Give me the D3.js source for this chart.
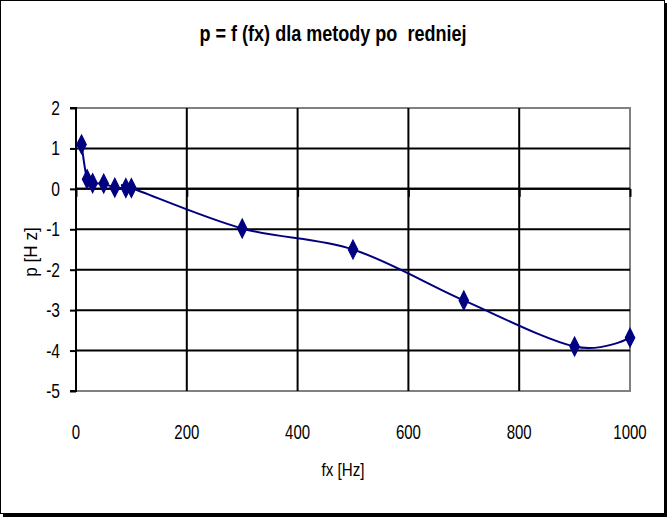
<!DOCTYPE html>
<html><head><meta charset="utf-8">
<script src="https://cdn.jsdelivr.net/npm/d3@7"></script>
<style>
html,body{margin:0;padding:0;background:#fff;}
text{font-family:"Liberation Sans",Arial,sans-serif;fill:#000;white-space:pre;}
</style></head>
<body>
<svg id="chart" width="667" height="517"></svg>
<script>
const fxValues = [10, 20, 30, 50, 70, 90, 100, 300, 500, 700, 900, 1000];
const pValues  = [1.1, 0.24, 0.14, 0.13, 0.03, 0.02, 0.02, -0.98, -1.5, -2.76, -3.9, -3.68];
const xTicks = [0, 200, 400, 600, 800, 1000];
const yTicks = [2, 1, 0, -1, -2, -3, -4, -5];
const titleText = "p = f (fx) dla metody po  redniej";
const xTitle = "fx [Hz]";
const yTitle = "p [H z]";

const svg = d3.select("#chart");
const L = 76, R = 630, T = 108, B = 391;

// frame with shadow
svg.append("rect").attr("x",0.5).attr("y",0.5).attr("width",664).attr("height",513)
  .attr("fill","#fff").attr("stroke","#000").attr("stroke-width",1);
svg.append("line").attr("x1",666).attr("x2",666).attr("y1",3).attr("y2",517).attr("stroke","#000").attr("stroke-width",2);
svg.append("line").attr("x1",3).attr("x2",667).attr("y1",515.5).attr("y2",515.5).attr("stroke","#000").attr("stroke-width",3);

const x = d3.scaleLinear().domain([0,1000]).range([L,R]);
const y = d3.scaleLinear().domain([-5,2]).range([B,T]);

// plot border (grey)
svg.append("rect").attr("x",L).attr("y",T).attr("width",R-L).attr("height",B-T)
  .attr("fill","none").attr("stroke","#808080").attr("stroke-width",2);

// gridlines
const g = svg.append("g");
g.selectAll("line.h").data(yTicks.filter(v=>v>-5 && v<2)).enter().append("line")
  .attr("x1",L).attr("x2",R).attr("y1",d=>y(d)).attr("y2",d=>y(d))
  .attr("stroke","#000").attr("stroke-width",2);
g.selectAll("line.v").data(xTicks.filter(v=>v>0 && v<1000)).enter().append("line")
  .attr("x1",d=>x(d)).attr("x2",d=>x(d)).attr("y1",T).attr("y2",B)
  .attr("stroke","#000").attr("stroke-width",2);

// y axis (ticks + line), labels drawn condensed
const yAxis = d3.axisLeft(y).tickValues(yTicks).tickSize(6).tickFormat("");
const ya = svg.append("g").attr("transform",`translate(${L},0)`).call(yAxis);
ya.select(".domain").attr("stroke","#000").attr("stroke-width",2).attr("d",`M-6,${B}H0V${T}H-6`);
ya.selectAll(".tick line").attr("stroke","#000").attr("stroke-width",2);
svg.append("g").selectAll("text").data(yTicks).enter().append("text")
  .attr("transform",d=>`translate(60,${y(d)+7}) scale(0.78,1)`)
  .attr("text-anchor","end").attr("font-size",20).text(d=>String(d));

// x axis at y=0 (ticks only), labels at bottom
const xAxis = d3.axisBottom(x).tickValues(xTicks).tickSize(8).tickFormat("");
const xa = svg.append("g").attr("transform",`translate(0,${y(0)})`).call(xAxis);
xa.select(".domain").attr("stroke","#000").attr("stroke-width",2).attr("d",`M${L},0H${R}`);
xa.selectAll(".tick line").attr("stroke","#000").attr("stroke-width",2);

svg.append("g").selectAll("text").data(xTicks).enter().append("text")
  .attr("transform",d=>`translate(${x(d)},439) scale(0.75,1)`)
  .attr("text-anchor","middle").attr("font-size",20).text(d=>String(d));

// line
const line = d3.line().x((d,i)=>x(fxValues[i])).y(d=>y(d)).curve(d3.curveCardinal.tension(0));
svg.append("path").datum(pValues).attr("d",line).attr("fill","none")
  .attr("stroke","#000080").attr("stroke-width",2);

// markers
const dia = d3.symbol().type(d3.symbolDiamond).size(80);
svg.append("g").selectAll("path").data(pValues).enter().append("path")
  .attr("transform",(d,i)=>`translate(${x(fxValues[i])},${y(d)}) scale(1,1.15)`)
  .attr("d",dia).attr("fill","#000080").attr("stroke","#000080").attr("stroke-width",1);

// titles
svg.append("text").attr("transform","translate(333,41) scale(0.82,1)").attr("text-anchor","middle")
  .attr("font-size",22).attr("font-weight","bold").text(titleText);
svg.append("text").attr("transform","translate(343,476) scale(0.8,1)").attr("text-anchor","middle")
  .attr("font-size",19).text(xTitle);
svg.append("text").attr("transform","translate(37,252) rotate(-90) scale(0.9,1)").attr("text-anchor","middle")
  .attr("font-size",19).text(yTitle);
</script>
</body></html>
